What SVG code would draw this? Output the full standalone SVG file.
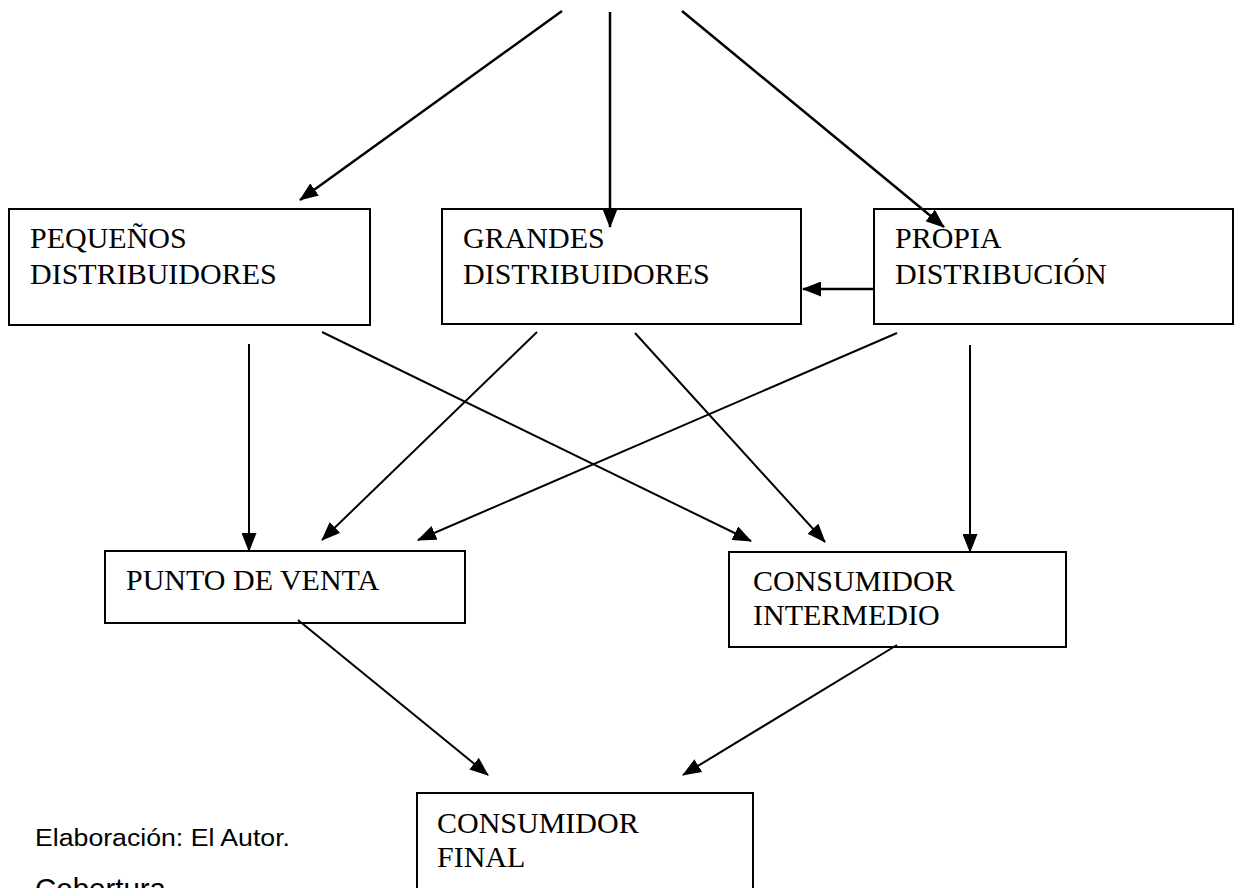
<svg xmlns="http://www.w3.org/2000/svg" width="1243" height="888" viewBox="0 0 1243 888">
<style>
.box{fill:#fff;stroke:#000;stroke-width:2}
.lbl{font-family:"Liberation Serif","Times New Roman",serif;font-size:30px;fill:#000}
.con{stroke:#000;stroke-width:2;fill:none;marker-end:url(#ah)}
.thick{stroke-width:2.5}
.note{font-family:"Liberation Sans",Arial,sans-serif;fill:#000}
</style>
<defs>
<marker id="ah" markerUnits="userSpaceOnUse" markerWidth="19" markerHeight="15" refX="18" refY="7.5" orient="auto" viewBox="0 0 19 15">
<path d="M0,0 L19,7.5 L0,15 z" fill="#000"/>
</marker>
</defs>
<rect width="1243" height="888" fill="#fff"/>
<g id="pequenos">
<rect class="box" x="9" y="209" width="361" height="116"/>
<text class="lbl" x="30" y="248">PEQUEÑOS</text>
<text class="lbl" x="30" y="284">DISTRIBUIDORES</text>
</g>
<g id="grandes">
<rect class="box" x="442" y="209" width="359" height="115"/>
<text class="lbl" x="463" y="248">GRANDES</text>
<text class="lbl" x="463" y="284">DISTRIBUIDORES</text>
</g>
<g id="propia">
<rect class="box" x="874" y="209" width="359" height="115"/>
<text class="lbl" x="895" y="248">PROPIA</text>
<text class="lbl" x="895" y="284">DISTRIBUCIÓN</text>
</g>
<g id="punto">
<rect class="box" x="105" y="551" width="360" height="72"/>
<text class="lbl" x="126" y="590">PUNTO DE VENTA</text>
</g>
<g id="intermedio">
<rect class="box" x="729" y="552" width="337" height="95"/>
<text class="lbl" x="753" y="591">CONSUMIDOR</text>
<text class="lbl" x="753" y="625">INTERMEDIO</text>
</g>
<g id="final">
<rect class="box" x="417" y="793" width="336" height="110"/>
<text class="lbl" x="437" y="833">CONSUMIDOR</text>
<text class="lbl" x="437" y="867">FINAL</text>
</g>
<g id="connectors">
<line class="con thick" x1="562" y1="11" x2="300" y2="200"/>
<line class="con thick" x1="610" y1="12" x2="610" y2="227"/>
<line class="con thick" x1="682" y1="11" x2="944" y2="227"/>
<line class="con thick" x1="873" y1="289" x2="803" y2="289"/>
<line class="con" x1="249" y1="344" x2="249" y2="551"/>
<line class="con" x1="322" y1="332" x2="751" y2="541"/>
<line class="con" x1="537" y1="332" x2="322" y2="540"/>
<line class="con" x1="635" y1="333" x2="825" y2="542"/>
<line class="con" x1="897" y1="333" x2="418" y2="540"/>
<line class="con" x1="970" y1="345" x2="970" y2="552"/>
<line class="con" x1="298" y1="620" x2="488" y2="775"/>
<line class="con" x1="897" y1="645" x2="683" y2="775"/>
</g>
<text class="note" x="35" y="846" font-size="23" textLength="255" lengthAdjust="spacingAndGlyphs">Elaboración: El Autor.</text>
<text class="note" x="35" y="899" font-size="29" textLength="131" lengthAdjust="spacingAndGlyphs">Cobertura</text>
</svg>
